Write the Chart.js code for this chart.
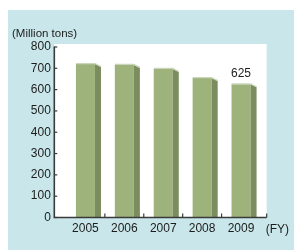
<!DOCTYPE html>
<html>
<head>
<meta charset="utf-8">
<script src="https://cdn.jsdelivr.net/npm/chart.js@4/dist/chart.umd.min.js"></script>
<style>
  html, body { margin: 0; padding: 0; background: #ffffff; }
  #wrap { position: relative; width: 294px; height: 251px; overflow: hidden; }
  #panel { position: absolute; left: 8px; top: 10px; width: 286px; height: 240px; background: #c9e7ea; }
  canvas { position: absolute; left: 0; top: 0; }
</style>
</head>
<body>
<div id="wrap">
  <div id="panel"></div>
  <canvas id="c" width="294" height="251"></canvas>
</div>
<script>
// ---- data ----
const years = ['2005', '2006', '2007', '2008', '2009'];
const volumes = [720, 716, 697, 654, 625];          // Million tons
const yTickValues = [0, 100, 200, 300, 400, 500, 600, 700, 800];
const labelledBars = [false, false, false, false, true];
const yUnitLabel = '(Million tons)';
const xUnitLabel = '(FY)';

const FONT = '"Liberation Sans", Arial, Helvetica, sans-serif';
const FRONT = '#9db37b';
const SIDE = '#7b8d5e';
const TOPHL = '#cbd5ba';
const AXIS = '#3a3a3a';
const TEXT = '#1c1c1c';

const points = years.map((_, i) => ({ x: i, y: volumes[i] }));

const deco = {
  id: 'deco',
  beforeDatasetsDraw(chart) {
    const { ctx, chartArea: a } = chart;
    ctx.save();
    ctx.fillStyle = '#ffffff';
    ctx.fillRect(a.left, a.top, a.right - a.left, a.bottom - a.top);
    ctx.restore();
  },
  afterDatasetsDraw(chart) {
    const { ctx, chartArea: a, scales } = chart;
    const xs = scales.x, ys = scales.y;
    const meta = chart.getDatasetMeta(0);
    ctx.save();
    // 3D side faces + top highlight
    meta.data.forEach((bar, i) => {
      const half = bar.width / 2;
      const r = bar.x + half, l = bar.x - half;
      const depth = bar.width * 0.32, drop = 3;
      ctx.fillStyle = SIDE;
      ctx.beginPath();
      ctx.moveTo(r, bar.y);
      ctx.lineTo(r + depth, bar.y + drop);
      ctx.lineTo(r + depth, bar.base);
      ctx.lineTo(r, bar.base);
      ctx.closePath();
      ctx.fill();
      ctx.strokeStyle = TOPHL;
      ctx.lineWidth = 1.2;
      ctx.beginPath();
      ctx.moveTo(l, bar.y - 0.5);
      ctx.lineTo(r, bar.y - 0.5);
      ctx.lineTo(r + depth, bar.y + drop - 0.5);
      ctx.stroke();
      if (labelledBars[i]) {
        ctx.fillStyle = TEXT;
        ctx.font = '12px ' + FONT;
        ctx.textAlign = 'center';
        ctx.textBaseline = 'alphabetic';
        ctx.fillText(String(volumes[i]), bar.x, bar.y - 7);
      }
    });
    // axes
    ctx.strokeStyle = AXIS;
    ctx.lineWidth = 1.6;
    const yTop = ys.getPixelForValue(yTickValues[yTickValues.length - 1]);
    ctx.beginPath();
    ctx.moveTo(a.left, yTop - 0.5);
    ctx.lineTo(a.left, a.bottom);
    ctx.lineTo(a.right, a.bottom);
    ctx.stroke();
    ctx.lineWidth = 1.2;
    yTickValues.forEach(v => {
      const py = ys.getPixelForValue(v);
      ctx.beginPath();
      ctx.moveTo(a.left, py);
      ctx.lineTo(a.left + 3, py);
      ctx.stroke();
    });
    const sep = years.slice(1).map((_, i) => i + 0.5);
    sep.forEach(v => {
      const px = xs.getPixelForValue(v);
      ctx.beginPath();
      ctx.moveTo(px, a.bottom);
      ctx.lineTo(px, a.bottom - 4);
      ctx.stroke();
    });
    ctx.beginPath();
    ctx.moveTo(a.right, a.bottom);
    ctx.lineTo(a.right, a.bottom - 4);
    ctx.stroke();
    // unit labels
    ctx.fillStyle = TEXT;
    ctx.textBaseline = 'middle';
    ctx.textAlign = 'left';
    ctx.font = '11.5px ' + FONT;
    ctx.fillText(yUnitLabel, 12, 33.5);
    ctx.font = '12px ' + FONT;
    ctx.fillText(xUnitLabel, a.right - 1, a.bottom + 12);
    ctx.restore();
  }
};

new Chart(document.getElementById('c'), {
  type: 'bar',
  data: {
    datasets: [{
      data: points,
      backgroundColor: FRONT,
      borderWidth: 0,
      categoryPercentage: 1,
      barPercentage: 0.488
    }]
  },
  options: {
    responsive: false,
    animation: false,
    devicePixelRatio: 1,
    layout: { padding: { top: 44, right: 27.3, left: 0, bottom: 0 } },
    plugins: { legend: { display: false }, tooltip: { enabled: false }, title: { display: false } },
    scales: {
      x: {
        type: 'linear',
        offset: false,
        min: -0.8,
        max: 4.66,
        grid: { display: false, drawTicks: false, offset: false },
        border: { display: false },
        afterBuildTicks: s => { s.ticks = years.map((_, i) => ({ value: i })); },
        afterFit: s => { s.height = 33.5; },
        ticks: {
          autoSkip: false,
          maxRotation: 0,
          padding: 4,
          color: TEXT,
          font: { family: FONT, size: 12 },
          callback: v => (Number.isInteger(v) ? years[v] : '')
        }
      },
      y: {
        min: 0,
        max: 814,
        grid: { display: false, drawTicks: false },
        border: { display: false },
        afterBuildTicks: s => { s.ticks = yTickValues.map(v => ({ value: v })); },
        afterFit: s => { s.width = 54.3; },
        ticks: {
          padding: 3.5,
          color: TEXT,
          font: { family: FONT, size: 12 }
        }
      }
    }
  },
  plugins: [deco]
});
</script>
</body>
</html>
